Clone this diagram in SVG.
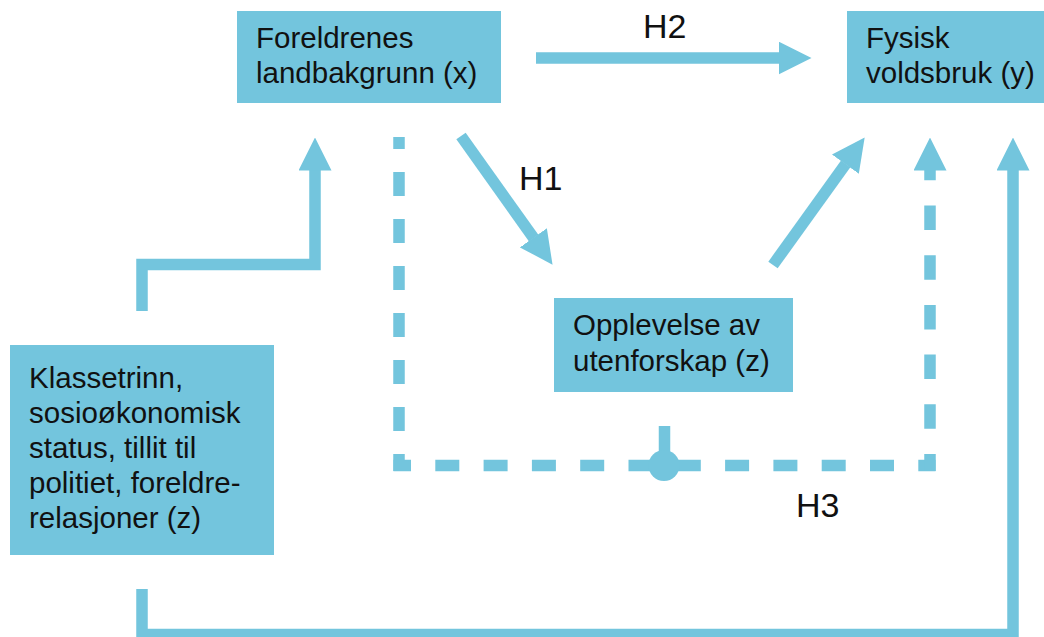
<svg xmlns="http://www.w3.org/2000/svg" width="1044" height="637" viewBox="0 0 1044 637">
<style>
.box{fill:#73C5DD}
.t{font-family:"Liberation Sans",Arial,Helvetica,sans-serif;font-size:29.5px;fill:#111}
.h{font-family:"Liberation Sans",Arial,Helvetica,sans-serif;font-size:34px;fill:#111}
.c{fill:none;stroke:#73C5DD;stroke-width:11.5;stroke-linejoin:miter;stroke-linecap:butt}
.ar{marker-end:url(#head)}
</style>
<defs>
<marker id="head" markerUnits="userSpaceOnUse" viewBox="0 0 33 33" refX="0.5" refY="16.5" markerWidth="33" markerHeight="33" orient="auto">
<path d="M0,0 L33,16.5 L0,33 Z" fill="#73C5DD"/>
</marker>
</defs>
<rect width="1044" height="637" fill="#fff"/>
<g id="connectors">
<path class="c ar" d="M536,58 H779"/>
<path class="c ar" d="M461,136 L533.7,238.2"/>
<path class="c ar" d="M773,265 L845.7,163.8"/>
<path class="c ar" d="M142,311 V264.5 H315 V170"/>
<path class="c ar" d="M142,589 V634.5 H1013 V170"/>
<g id="h3-connector">
<path class="c" d="M399,137 V471" stroke-dasharray="24 23" stroke-dashoffset="12"/>
<path class="c" d="M393.5,465.5 H935.5" stroke-dasharray="24 24.3" stroke-dashoffset="6.5"/>
<path class="c ar" d="M930,471 V170" stroke-dasharray="24.5 25.2" stroke-dashoffset="7.5"/>
<path class="c" d="M664.5,426 V465"/>
<circle cx="664" cy="465.5" r="15.5" fill="#73C5DD"/>
</g>
</g>
<g id="labels">
<text class="h" x="643" y="38">H2</text>
<text class="h" x="519" y="190">H1</text>
<text class="h" x="796" y="517">H3</text>
</g>
<g id="node-foreldrenes">
<rect class="box" x="237" y="11" width="264" height="92"/>
<text class="t" x="256" y="47.5">Foreldrenes</text>
<text class="t" x="256" y="83">landbakgrunn (x)</text>
</g>
<g id="node-fysisk">
<rect class="box" x="847" y="11" width="197" height="92"/>
<text class="t" x="866" y="47.5">Fysisk</text>
<text class="t" x="866" y="83">voldsbruk (y)</text>
</g>
<g id="node-opplevelse">
<rect class="box" x="554" y="298" width="239" height="94"/>
<text class="t" x="573" y="335">Opplevelse av</text>
<text class="t" x="573" y="371">utenforskap (z)</text>
</g>
<g id="node-kontroll">
<rect class="box" x="10" y="345" width="264" height="210"/>
<text class="t" x="29" y="388">Klassetrinn,</text>
<text class="t" x="29" y="423">sosioøkonomisk</text>
<text class="t" x="29" y="458">status, tillit til</text>
<text class="t" x="29" y="493">politiet, foreldre-</text>
<text class="t" x="29" y="528">relasjoner (z)</text>
</g>
</svg>
